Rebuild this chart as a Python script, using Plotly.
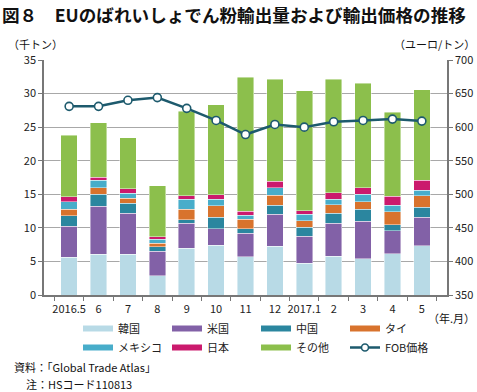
import plotly.graph_objects as go

months = ["2016.5", "6", "7", "8", "9", "10", "11", "12", "2017.1", "2", "3", "4", "5"]

korea  = [5.65, 6.05, 6.05, 2.88, 7.0, 7.39, 5.7, 7.24, 4.76, 5.75, 5.4, 6.15, 7.34]
usa    = [4.62, 7.15, 6.10, 3.67, 3.67, 2.48, 3.5, 4.76, 3.97, 4.92, 5.6, 3.42, 4.26]
china  = [1.53, 1.80, 1.49, 0.64, 0.53, 1.73, 0.67, 1.34, 1.39, 1.53, 1.75, 0.89, 1.45]
thai   = [0.95, 1.00, 0.74, 0.55, 1.60, 1.70, 1.43, 1.54, 0.94, 1.24, 1.13, 1.94, 1.73]
mexico = [1.15, 1.10, 0.79, 0.59, 1.44, 0.99, 0.60, 1.12, 0.94, 0.85, 1.15, 0.99, 0.85]
japan  = [0.70, 0.45, 0.63, 0.35, 0.54, 0.64, 0.55, 0.96, 0.55, 0.93, 0.94, 1.34, 1.47]
other  = [9.16, 8.10, 7.60, 7.62, 12.60, 13.37, 19.99, 15.18, 17.85, 16.88, 15.58, 12.47, 13.45]
fob    = [631, 631, 640, 644, 628, 610, 589, 604, 600, 608, 610, 612, 609]

series = [
    ("韓国", korea, "#b8dae6"),
    ("米国", usa, "#8261a7"),
    ("中国", china, "#2b869f"),
    ("タイ", thai, "#d8732d"),
    ("メキシコ", mexico, "#48adca"),
    ("日本", japan, "#cb1a6d"),
    ("その他", other, "#8cbf4c"),
]
line_color = "#1d5a6d"
font_family = "Noto Sans CJK JP, Noto Sans, sans-serif"

W, H = 477, 392
ML, MR, MT, MB = 44, 30, 60, 97
PW, PH = W - ML - MR, H - MT - MB


def px_x(x):
    return (x - ML) / PW


def px_y(y):
    return (H - MB - y) / PH


fig = go.Figure()
for name, vals, col in series:
    fig.add_trace(go.Bar(
        x=months, y=vals, name=name, marker_color=col,
        marker_line_color="rgba(255,255,255,0.55)", marker_line_width=0.8,
        width=0.56, showlegend=False,
    ))
fig.add_trace(go.Scatter(
    x=months, y=fob, name="FOB価格", yaxis="y2", mode="lines+markers",
    line=dict(color=line_color, width=2.5),
    marker=dict(size=8, color="white", line=dict(color=line_color, width=1.6)),
    showlegend=False,
))

# legend-only entries (wide swatches)
for name, vals, col in series:
    fig.add_trace(go.Scatter(
        x=[None], y=[None], name=name, mode="lines",
        line=dict(color=col, width=6), showlegend=True,
    ))
fig.add_trace(go.Scatter(
    x=[None], y=[None], name="FOB価格", mode="lines+markers", yaxis="y2",
    line=dict(color=line_color, width=2.5),
    marker=dict(size=7, color="white", line=dict(color=line_color, width=1.6)),
    showlegend=True,
))

fig.update_layout(
    barmode="stack",
    width=W, height=H,
    margin=dict(l=ML, r=MR, t=MT, b=MB, autoexpand=False),
    paper_bgcolor="white", plot_bgcolor="white",
    font=dict(family=font_family, size=11, color="#222"),
    showlegend=True,
    legend=dict(
        orientation="h", x=px_x(78), y=px_y(314), xanchor="left", yanchor="top",
        entrywidth=44, entrywidthmode="pixels", traceorder="normal",
        font=dict(size=11), itemwidth=30, tracegroupgap=0,
        bgcolor="rgba(0,0,0,0)",
    ),
    xaxis=dict(
        type="category", showline=True, linecolor="#777", linewidth=1.5,
        ticks="outside", tickson="boundaries", ticklen=4, tickcolor="#777",
        showgrid=False, tickfont=dict(size=11), tickangle=0, automargin=False,
        ticklabelstandoff=3,
    ),
    yaxis=dict(
        range=[0, 35], dtick=5, showline=True, linecolor="#777", linewidth=1.5,
        ticks="outside", ticklen=4, tickcolor="#777",
        showgrid=True, gridcolor="#a8a8a8", gridwidth=1,
        tickfont=dict(size=11), zeroline=False, automargin=False,
    ),
    yaxis2=dict(
        range=[350, 700], dtick=50, overlaying="y", side="right",
        showline=True, linecolor="#777", linewidth=1.5,
        ticks="outside", ticklen=4, tickcolor="#777", showgrid=False,
        tickfont=dict(size=11), zeroline=False, automargin=False,
    ),
)

annos = [
    ("<b>図８　EUのばれいしょでん粉輸出量および輸出価格の推移</b>", 0, 0, "left", 17.6),
    ("（千トン）", 6, 34, "left", 11),
    ("（ユーロ/トン）", 477, 34, "right", 11),
    ("（年.月）", 477, 308, "right", 11),
    ("資料：「Global Trade Atlas」", 12, 357, "left", 11),
    ("注：HSコード110813", 24, 374, "left", 11),
]
for text, x, y, xa, size in annos:
    fig.add_annotation(
        xref="paper", yref="paper", showarrow=False,
        x=px_x(x), y=px_y(y), xanchor=xa, yanchor="top",
        text=text, font=dict(size=size, color="#111"),
    )

fig.write_html("out.html", config={"displayModeBar": False},
               post_script="document.body.style.margin='0';")
